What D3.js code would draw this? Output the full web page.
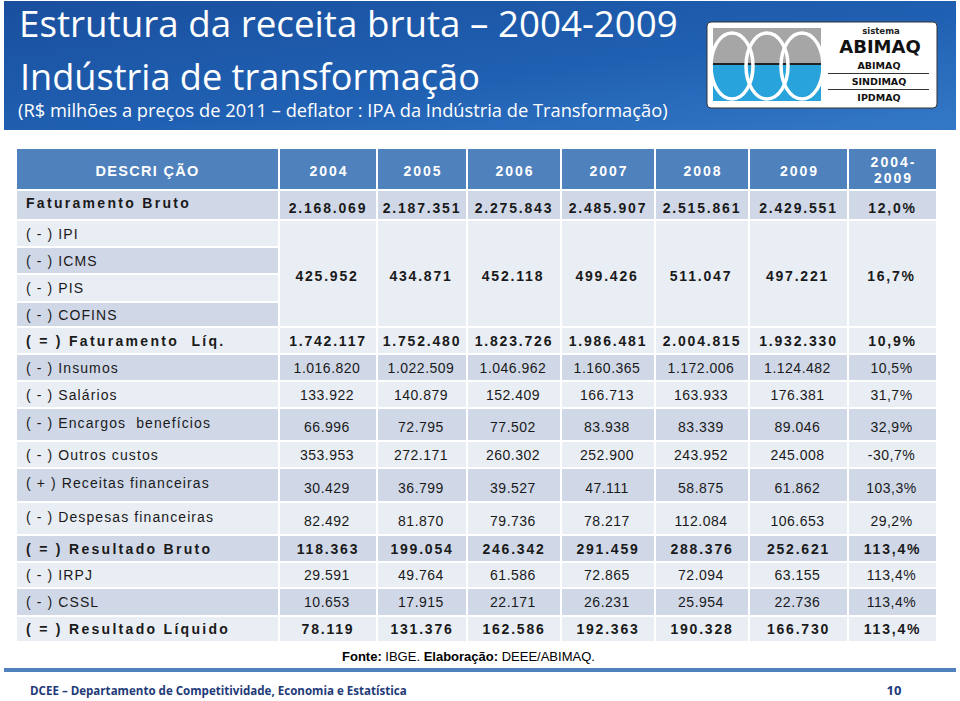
<!DOCTYPE html>
<html><head><meta charset="utf-8">
<script src="https://cdn.jsdelivr.net/npm/d3@7"></script>
<style>body{margin:0;background:#fff}svg{display:block}</style>
</head><body>
<svg id="c" width="960" height="701"></svg>
<script>
// ---------- DATA ----------
const titleLines = ["Estrutura da receita bruta \u2013 2004-2009", "Indústria de transformação"];
const subtitle = "(R$ milhões a preços de 2011 \u2013 deflator : IPA da Indústria de Transformação)";
const descHeader = "DESCRI ÇÃO";
const years = ["2004", "2005", "2006", "2007", "2008", "2009"];
const periodHeader = ["2004-", "2009"];
const rowLabels = ["Faturamento Bruto", "( - ) IPI", "( - ) ICMS", "( - ) PIS", "( - ) COFINS",
  "( = ) Faturamento  Líq.", "( - ) Insumos", "( - ) Salários", "( - ) Encargos  benefícios",
  "( - ) Outros custos", "( + ) Receitas financeiras", "( - ) Despesas financeiras",
  "( = ) Resultado Bruto", "( - ) IRPJ", "( - ) CSSL", "( = ) Resultado Líquido"];
const boldLabels = ["Faturamento Bruto", "( = ) Faturamento  Líq.", "( = ) Resultado Bruto", "( = ) Resultado Líquido"];
const faturamentoBruto = [2168069, 2187351, 2275843, 2485907, 2515861, 2429551];
const impostos = [425952, 434871, 452118, 499426, 511047, 497221];
const faturamentoLiq = [1742117, 1752480, 1823726, 1986481, 2004815, 1932330];
const insumos = [1016820, 1022509, 1046962, 1160365, 1172006, 1124482];
const salarios = [133922, 140879, 152409, 166713, 163933, 176381];
const encargos = [66996, 72795, 77502, 83938, 83339, 89046];
const outrosCustos = [353953, 272171, 260302, 252900, 243952, 245008];
const receitasFin = [30429, 36799, 39527, 47111, 58875, 61862];
const despesasFin = [82492, 81870, 79736, 78217, 112084, 106653];
const resultadoBruto = [118363, 199054, 246342, 291459, 288376, 252621];
const irpj = [29591, 49764, 61586, 72865, 72094, 63155];
const cssl = [10653, 17915, 22171, 26231, 25954, 22736];
const resultadoLiq = [78119, 131376, 162586, 192363, 190328, 166730];
const variacao = [12.0, 16.7, 10.9, 10.5, 31.7, 32.9, -30.7, 103.3, 29.2, 113.4, 113.4, 113.4, 113.4];
const fonte = [["Fonte:", true], [" IBGE. ", false], ["Elaboração:", true], [" DEEE/ABIMAQ.", false]];
const footerText = "DCEE \u2013 Departamento de Competitividade, Economia e Estatística";
const pageNumber = "10";
const logoLines = ["sistema", "ABIMAQ", "ABIMAQ", "SINDIMAQ", "IPDMAQ"];

// value rows -> [values, first label row, last label row]
const valueRows = [
  [faturamentoBruto, 0, 0], [impostos, 1, 4], [faturamentoLiq, 5, 5], [insumos, 6, 6],
  [salarios, 7, 7], [encargos, 8, 8], [outrosCustos, 9, 9], [receitasFin, 10, 10],
  [despesasFin, 11, 11], [resultadoBruto, 12, 12], [irpj, 13, 13], [cssl, 14, 14], [resultadoLiq, 15, 15]
];

// ---------- LAYOUT ----------
const colEdges = [16, 279, 377, 467, 561, 655, 749, 848, 937];
const headerTop = 148, headerBottom = 190;
const rowEdges = [190, 220, 247, 274, 302, 327, 354, 381, 408, 441, 468, 502, 535, 562, 588, 616, 642];
const C = { header: "#4f81bd", dark: "#d0d8e8", light: "#e9edf4", text: "#1a1a1a", navy: "#1f3a78" };

const loc = d3.formatLocale({ decimal: ",", thousands: ".", grouping: [3], currency: ["R$", ""], minus: "-" });
const fmtN = loc.format(",d");
const fmtP = v => loc.format(".1f")(v) + "%";

const svg = d3.select("#c");
const defs = svg.append("defs");

// ---------- TITLE BANNER ----------
const g1 = defs.append("linearGradient").attr("id", "ban").attr("x1", 0).attr("y1", 0).attr("x2", 1).attr("y2", 1);
g1.append("stop").attr("offset", 0).attr("stop-color", "#1a4f9e");
g1.append("stop").attr("offset", 0.55).attr("stop-color", "#2060b2");
g1.append("stop").attr("offset", 1).attr("stop-color", "#3479c8");
svg.append("rect").attr("x", 4).attr("y", 1).attr("width", 952).attr("height", 129).attr("fill", "url(#ban)");

function fitText(sel, w) {
  const len = sel.node().getComputedTextLength();
  const fs = parseFloat(sel.attr("font-size"));
  sel.attr("font-size", fs * w / len);
}
const tfont = "'Open Sans', 'Noto Sans', sans-serif";
const t1 = svg.append("text").attr("x", 19).attr("y", 37).attr("font-family", tfont).attr("font-size", 34)
  .attr("fill", "#fff").text(titleLines[0]);
fitText(t1, 659);
const t2 = svg.append("text").attr("x", 20).attr("y", 90).attr("font-family", tfont).attr("font-size", 34)
  .attr("fill", "#fff").text(titleLines[1]);
fitText(t2, 460);
const t3 = svg.append("text").attr("x", 18).attr("y", 117).attr("font-family", tfont).attr("font-size", 20)
  .attr("fill", "#fff").text(subtitle);
fitText(t3, 650);

// ---------- LOGO ----------
const lg = svg.append("g");
lg.append("rect").attr("x", 707).attr("y", 22).attr("width", 230).attr("height", 86).attr("rx", 4)
  .attr("fill", "#fff").attr("stroke", "#333").attr("stroke-width", 1);
defs.append("clipPath").attr("id", "lclip").append("rect").attr("x", 713).attr("y", 28).attr("width", 108).attr("height", 73);
const lgc = lg.append("g").attr("clip-path", "url(#lclip)");
lgc.append("rect").attr("x", 713).attr("y", 28).attr("width", 108).attr("height", 36).attr("fill", "#a6a6a6");
lgc.append("rect").attr("x", 713).attr("y", 64).attr("width", 108).attr("height", 37).attr("fill", "#29a3dc");
lgc.append("rect").attr("x", 713).attr("y", 63).attr("width", 108).attr("height", 2).attr("fill", "#222");
[732, 767, 802].forEach(cx => {
  lgc.append("ellipse").attr("cx", cx).attr("cy", 66).attr("rx", 21).attr("ry", 33)
    .attr("fill", "none").attr("stroke", "#fff").attr("stroke-width", 3.5);
});
const lfont = "'DejaVu Sans', Verdana, sans-serif";
lg.append("text").attr("x", 881).attr("y", 34).attr("text-anchor", "middle").attr("font-family", lfont)
  .attr("font-weight", "bold").attr("font-size", 8.5).attr("fill", "#222").text(logoLines[0]);
lg.append("text").attr("x", 880).attr("y", 53).attr("text-anchor", "middle").attr("font-family", lfont)
  .attr("font-weight", "bold").attr("font-size", 18).attr("fill", "#111").text(logoLines[1]);
[[69, 2], [85, 3], [101, 4]].forEach(([y, i]) => {
  lg.append("text").attr("x", 879).attr("y", y).attr("text-anchor", "middle").attr("font-family", lfont)
    .attr("font-weight", "bold").attr("font-size", 9.5).attr("fill", "#111").text(logoLines[i]);
});
[73, 89].forEach(y => lg.append("rect").attr("x", 828).attr("y", y).attr("width", 101).attr("height", 1).attr("fill", "#333"));

// ---------- TABLE ----------
const colIds = ["desc", ...years, "var"];
const xL = d3.scaleOrdinal().domain(colIds).range(colEdges.slice(0, -1));
const xR = d3.scaleOrdinal().domain(colIds).range(colEdges.slice(1));
const xC = c => (xL(c) + xR(c)) / 2;
const rowIdx = d3.range(rowLabels.length);
const yT = d3.scaleOrdinal().domain(rowIdx).range(rowEdges.slice(0, -1));
const yB = d3.scaleOrdinal().domain(rowIdx).range(rowEdges.slice(1));

const tfontT = "'Liberation Sans', Arial, sans-serif";
const tbl = svg.append("g");

// header cells
tbl.selectAll("rect.h").data(colIds).join("rect")
  .attr("x", d => xL(d)).attr("y", headerTop).attr("width", d => xR(d) - xL(d)).attr("height", headerBottom - headerTop)
  .attr("fill", C.header).attr("stroke", "#fff").attr("stroke-width", 2);
tbl.append("text").attr("x", xC("desc")).attr("y", 176).attr("text-anchor", "middle")
  .attr("font-family", tfontT).attr("font-weight", "bold").attr("font-size", 14.5).style("letter-spacing", "1.3px")
  .attr("fill", "#fff").text(descHeader);
tbl.selectAll("text.yr").data(years).join("text")
  .attr("x", d => xC(d) + 1).attr("y", 176).attr("text-anchor", "middle")
  .attr("font-family", tfontT).attr("font-weight", "bold").attr("font-size", 14).style("letter-spacing", "2px")
  .attr("fill", "#fff").text(d => d);
tbl.selectAll("text.pr").data(periodHeader).join("text")
  .attr("x", xC("var") + 1).attr("y", (d, i) => 167 + i * 16).attr("text-anchor", "middle")
  .attr("font-family", tfontT).attr("font-weight", "bold").attr("font-size", 14).style("letter-spacing", "2px")
  .attr("fill", "#fff").text(d => d);

const rowFill = i => (i % 2 === 0 ? C.dark : C.light);

// description cells
tbl.selectAll("rect.d").data(rowIdx).join("rect")
  .attr("x", xL("desc")).attr("y", d => yT(d)).attr("width", xR("desc") - xL("desc")).attr("height", d => yB(d) - yT(d))
  .attr("fill", d => rowFill(d)).attr("stroke", "#fff").attr("stroke-width", 2);

// value cells
const valueCells = [];
valueRows.forEach(([vals, r0, r1], vi) => {
  years.forEach((y, j) => valueCells.push({ col: y, r0, r1, txt: fmtN(vals[j]), bold: boldLabels.includes(rowLabels[r0]) }));
  valueCells.push({ col: "var", r0, r1, txt: fmtP(variacao[vi]), bold: boldLabels.includes(rowLabels[r0]) });
});
tbl.selectAll("rect.v").data(valueCells).join("rect")
  .attr("x", d => xL(d.col)).attr("y", d => yT(d.r0)).attr("width", d => xR(d.col) - xL(d.col))
  .attr("height", d => yB(d.r1) - yT(d.r0))
  .attr("fill", d => (d.r0 !== d.r1 ? C.light : rowFill(d.r0))).attr("stroke", "#fff").attr("stroke-width", 2);

const tall = (r0, r1) => r0 === r1 && yB(r1) - yT(r0) > 29;
tbl.selectAll("text.v").data(valueCells).join("text")
  .attr("x", d => xC(d.col) + (d.bold ? 0 : -1))
  .attr("y", d => (yT(d.r0) + yB(d.r1)) / 2 + 5 + (tall(d.r0, d.r1) ? 2.5 : 0) + (d.r0 !== d.r1 ? 2 : 0))
  .attr("text-anchor", "middle").attr("font-family", tfontT)
  .attr("font-weight", d => (d.bold || d.r0 !== d.r1 ? "bold" : "normal"))
  .attr("font-size", 14)
  .style("letter-spacing", d => (d.bold || d.r0 !== d.r1 ? "1.8px" : "0.5px"))
  .attr("fill", C.text).text(d => d.txt);

tbl.selectAll("text.l").data(rowIdx).join("text")
  .attr("x", 26).attr("y", d => (yT(d) + yB(d)) / 2 + 5 + (tall(d, d) ? -2 : 0))
  .attr("font-family", tfontT)
  .attr("font-weight", d => (boldLabels.includes(rowLabels[d]) ? "bold" : "normal"))
  .attr("font-size", 14)
  .style("letter-spacing", d => (boldLabels.includes(rowLabels[d]) ? "2.3px" : "1.1px"))
  .attr("fill", C.text).attr("xml:space", "preserve").style("white-space", "pre").text(d => rowLabels[d]);

// ---------- SOURCE ----------
const ft = svg.append("text").attr("x", 342).attr("y", 661).attr("font-family", tfontT).attr("font-size", 13).attr("fill", "#000");
ft.selectAll("tspan").data(fonte).join("tspan").attr("font-weight", d => (d[1] ? "bold" : "normal")).style("white-space", "pre").text(d => d[0]);

// ---------- FOOTER ----------
svg.append("rect").attr("x", 4).attr("y", 668).attr("width", 952).attr("height", 4).attr("fill", "#4f81bd");
const fo = svg.append("text").attr("x", 30).attr("y", 695).attr("font-family", tfont).attr("font-weight", "bold")
  .attr("font-size", 12.5).attr("fill", C.navy).text(footerText);
fitText(fo, 377);
svg.append("text").attr("x", 894).attr("y", 695).attr("text-anchor", "middle").attr("font-family", tfont).attr("font-weight", "bold")
  .attr("font-size", 13).attr("fill", C.navy).text(pageNumber);
</script>
</body></html>
